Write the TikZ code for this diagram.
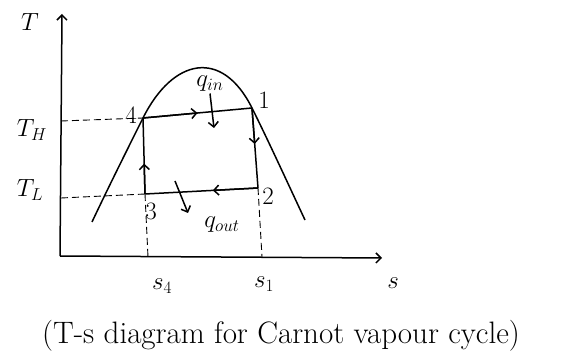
\documentclass[tikz,border=0pt]{standalone}
\usepackage{tikz}
\usetikzlibrary{arrows.meta,calc}

\begin{document}
\begin{tikzpicture}[x=1pt,y=-1pt,line width=1.5pt,>={Straight Barb[length=5pt,width=10pt]},
 lbl/.style={font=\fontsize{25}{30}\selectfont,inner sep=1pt},
 guide/.style={line width=.9pt,dash pattern=on 7pt off 4pt}]
 \useasboundingbox (0,0) rectangle (581,363);
 % axes
 \coordinate (O) at (60,256);
 \coordinate (Ttop) at (62,14);
 \coordinate (Send) at (382,258);
 \draw[->] (O) -- (Ttop);
 \draw[->] (O) -- (Send);
 \node[lbl] (Tlab) at (30,22) {$T$};
 \node[lbl] (slab) at (393,283) {$s$};
 % cycle states
 \coordinate (p4) at (143,118);
 \coordinate (p1) at (252,108);
 \coordinate (p2) at (258,188);
 \coordinate (p3) at (145,194);
 \coordinate (THax) at (61,121);
 \coordinate (TLax) at (61,198);
 \coordinate (s4ax) at (148,257);
 \coordinate (s1ax) at (262,257);
 % saturation dome
 \draw (92,222) .. controls (108,188) and (133,138) .. (p4)
   .. controls (173,58) and (222,48) .. (p1)
   .. controls (268,140) and (290,188) .. (305,220);
 % process lines with mid arrows
 \draw[->] (p4) -- ($(p4)!.5!(p1)$);
 \draw (p4) -- (p1);
 \draw[->] (p1) -- ($(p1)!.45!(p2)$);
 \draw (p1) -- (p2);
 \draw[->] (p2) -- ($(p2)!.4!(p3)$);
 \draw (p2) -- (p3);
 \draw[->] (p3) -- ($(p3)!.4!(p4)$);
 \draw (p3) -- (p4);
 % guide lines
 \draw[guide] (THax) -- (p4);
 \draw[guide] (TLax) -- (p3);
 \draw[guide] (p3) -- (s4ax);
 \draw[guide] (p2) -- (s1ax);
 \node[lbl] (TH) at (32,130) {$T_H$};
 \node[lbl] (TL) at (30,190) {$T_L$};
 \node[lbl] (s4) at (162,286) {$s_4$};
 \node[lbl] (s1) at (264,284) {$s_1$};
 \node[lbl] (n4) at (131,115) {4};
 \node[lbl] (n1) at (264,100) {1};
 \node[lbl] (n2) at (268,196) {2};
 \node[lbl] (n3) at (151,211) {3};
 % heat in and out
 \node[lbl] (qin) at (210,84) {$q_{in}$};
 \coordinate (qinend) at (214,128);
 \draw[->] (qin.south) -- (qinend);
 \coordinate (qoutst) at (175,181);
 \node[lbl] (qout) at (222,225) {$q_{out}$};
 \draw[->] (qoutst) -- (188,213);
 % caption
 \node[font=\fontsize{31}{36}\selectfont] (cap) at (281,336) {(T-s diagram for Carnot vapour cycle)};
\end{tikzpicture}
\end{document}
